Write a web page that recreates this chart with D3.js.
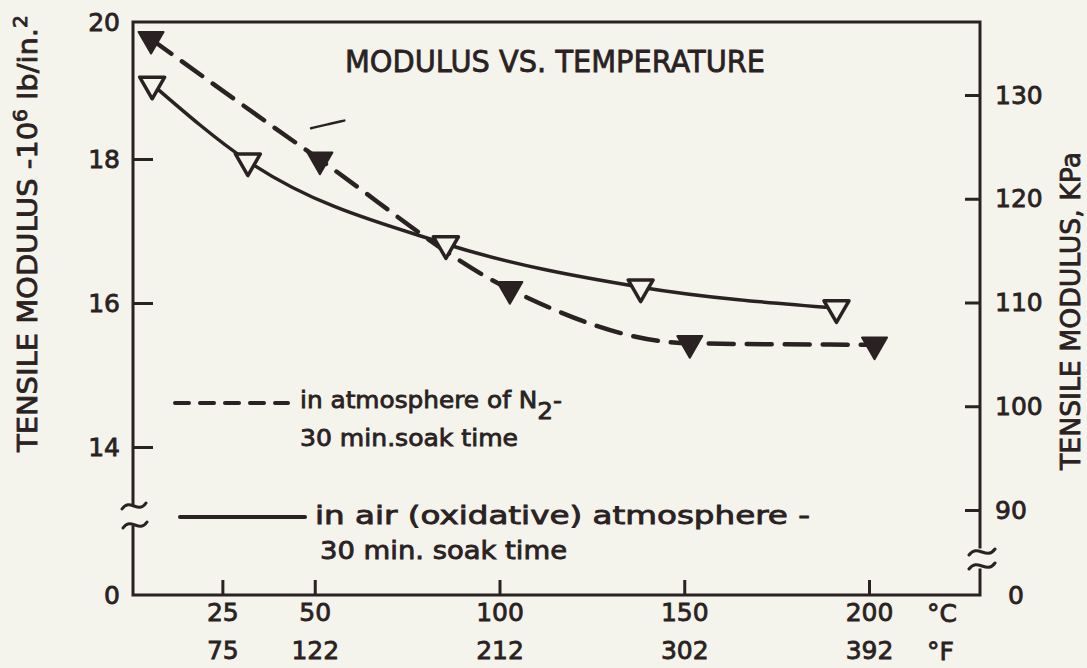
<!DOCTYPE html>
<html><head><meta charset="utf-8">
<script src="https://cdn.jsdelivr.net/npm/d3@7"></script>
<style>
html,body{margin:0;padding:0;background:#f4f3ec;}
svg{display:block;}
</style></head><body>
<svg id="chart" width="1087" height="668"></svg>
<script>
// Temperature tick labels (°C along the axis, °F printed beneath)
const tempC = [25, 50, 100, 150, 200];
const tempF = [75, 122, 212, 302, 392];
// Left axis: tensile modulus, 10^6 lb/in.^2
const psiTicks = [14, 16, 18];
const psiLabels = [0, 14, 16, 18, 20];
// Right axis: tensile modulus, KPa
const kpaTicks = [90, 100, 110, 120, 130];

// N2 atmosphere, 30 min soak time (filled triangles, dashed curve)
const n2Temp = [5.7, 51.4, 102.8, 151.5, 201.5];
const n2Modulus = [19.75, 17.99, 16.19, 15.44, 15.42];
// Air (oxidative) atmosphere, 30 min soak time (open triangles, solid curve)
const airTemp = [6.0, 31.9, 85.5, 138.2, 191.2];
const airModulus = [19.09, 17.97, 16.82, 16.22, 15.93];
// small loose pen stroke above the 50 °C point
const strayStroke = [[49, 18.45], [53, 18.5], [58, 18.56]];

const INK = "#2a2222", PAPER = "#f4f3ec", FONT = "'DejaVu Sans', sans-serif";
const frame = {left: 133, right: 980, top: 22, bottom: 595};

const svg = d3.select("#chart");
svg.append("rect").attr("width", 1087).attr("height", 668).attr("fill", PAPER);

// Scales; both modulus axes are broken just above zero
const x = d3.scaleLinear().domain([0, 200]).range([130, 869]);
const yL = d3.scaleLinear().domain([0, 13, 14, 18, 20]).range([595, 519, 447, 159, 22]);
const yR = d3.scaleLinear().domain([0, 85, 90, 130]).range([595, 562, 510, 95]);

function styleText(sel, size) {
  sel.attr("font-family", FONT).attr("font-size", size).attr("fill", INK)
     .attr("stroke", INK).attr("stroke-width", 0.8);
}
function tidyAxis(g, size) {
  g.select(".domain").remove();
  g.attr("font-family", null).attr("font-size", null);
  g.selectAll("line").attr("stroke", INK).attr("stroke-width", 3);
  g.selectAll("text").call(styleText, size);
}

// Frame with axis breaks
const framePath = [
  `M${frame.left},${frame.top}H${frame.right}`,
  `M${frame.left},${frame.top}V505`, `M${frame.left},527V${frame.bottom}`,
  `M${frame.left},${frame.bottom}H${frame.right}`,
  `M${frame.right},${frame.top}V547`, `M${frame.right},570V${frame.bottom}`
].join("");
svg.append("path").attr("d", framePath).attr("fill", "none")
  .attr("stroke", INK).attr("stroke-width", 3).attr("stroke-linecap", "square");

function tilde(cx, cy, w) {
  return `M${cx - w},${cy + 3}C${cx - w / 3},${cy - 9} ${cx + w / 3},${cy + 9} ${cx + w},${cy - 3}`;
}
svg.append("path")
  .attr("d", tilde(134, 506, 12) + tilde(135, 525, 12) + tilde(982, 552, 13) + tilde(982, 566, 13))
  .attr("fill", "none").attr("stroke", INK).attr("stroke-width", 3).attr("stroke-linecap", "round");

// Left axis: inward tick marks and outside labels
svg.append("g").attr("transform", `translate(${frame.left},0)`)
  .call(d3.axisRight(yL).tickValues(psiTicks).tickSize(20).tickFormat(""))
  .call(g => tidyAxis(g, 25));
svg.append("g").attr("transform", `translate(${frame.left},0)`)
  .call(d3.axisLeft(yL).tickValues(psiLabels).tickSize(0).tickPadding(13).tickFormat(d3.format("d")))
  .call(g => tidyAxis(g, 25));

// Right axis
svg.append("g").attr("transform", `translate(${frame.right},0)`)
  .call(d3.axisLeft(yR).tickValues(kpaTicks).tickSize(15).tickFormat(""))
  .call(g => tidyAxis(g, 25));
svg.append("g").attr("transform", `translate(${frame.right},0)`)
  .call(d3.axisRight(yR).tickValues(kpaTicks).tickSize(0).tickPadding(15).tickFormat(d3.format("d")))
  .call(g => tidyAxis(g, 25));
svg.append("text").attr("x", 1016).attr("y", yR(0)).attr("dy", "0.35em")
  .attr("text-anchor", "middle").text("0").call(styleText, 25);

// Bottom axis: tick marks pointing up, °C and °F label rows
svg.append("g").attr("transform", `translate(0,${frame.bottom})`)
  .call(d3.axisTop(x).tickValues(tempC).tickSize(15).tickFormat(""))
  .call(g => tidyAxis(g, 25));
svg.append("g").attr("transform", `translate(0,${frame.bottom})`)
  .call(d3.axisBottom(x).tickValues(tempC).tickSize(0).tickPadding(8).tickFormat(d3.format("d")))
  .call(g => tidyAxis(g, 25));
svg.append("g").attr("transform", `translate(0,${frame.bottom + 38})`)
  .call(d3.axisBottom(x).tickValues(tempC).tickSize(0).tickPadding(8)
    .tickFormat((d, i) => tempF[i]))
  .call(g => tidyAxis(g, 25));
svg.append("text").attr("x", 927).attr("y", 622).text("°C").call(styleText, 25);
svg.append("text").attr("x", 927).attr("y", 660).text("°F").call(styleText, 25);

// Axis titles
const leftTitle = svg.append("text")
  .attr("transform", "translate(37,452) rotate(-90)")
  .attr("text-anchor", "start")
  .attr("textLength", 437).attr("lengthAdjust", "spacingAndGlyphs")
  .call(styleText, 27);
leftTitle.append("tspan").text("TENSILE MODULUS -10");
leftTitle.append("tspan").attr("dy", -10).attr("font-size", 19).text("6");
leftTitle.append("tspan").attr("dy", 10).text(" lb/in.");
leftTitle.append("tspan").attr("dy", -10).attr("font-size", 19).text("2");

svg.append("text").attr("transform", "translate(1080,470) rotate(-90)")
  .attr("text-anchor", "start").attr("textLength", 318).attr("lengthAdjust", "spacingAndGlyphs")
  .text("TENSILE MODULUS, KPa").call(styleText, 26);

// Title
svg.append("text").attr("x", 555).attr("y", 72).attr("text-anchor", "middle")
  .attr("textLength", 420).attr("lengthAdjust", "spacingAndGlyphs")
  .text("MODULUS VS. TEMPERATURE").call(styleText, 31);

// Curves
const line = d3.line().x(d => x(d[0])).y(d => yL(d[1])).curve(d3.curveMonotoneX);
const n2Pts = n2Temp.map((t, i) => [t, n2Modulus[i]]);
const airPts = airTemp.map((t, i) => [t, airModulus[i]]);

svg.append("path").attr("d", line(n2Pts)).attr("fill", "none")
  .attr("stroke", INK).attr("stroke-width", 4.5).attr("stroke-dasharray", "25,13")
  .attr("stroke-linecap", "round");
svg.append("path").attr("d", line(airPts)).attr("fill", "none")
  .attr("stroke", INK).attr("stroke-width", 3.5);
svg.append("path").attr("d", d3.line().x(d => x(d[0])).y(d => yL(d[1])).curve(d3.curveBasis)(strayStroke))
  .attr("fill", "none").attr("stroke", INK).attr("stroke-width", 2.5).attr("stroke-linecap", "round");

// Markers: downward triangles
const tri = d3.symbol().type(d3.symbolTriangle).size(270);
svg.append("g").selectAll("path").data(airPts).join("path")
  .attr("d", tri).attr("transform", d => `translate(${x(d[0])},${yL(d[1])}) rotate(180)`)
  .attr("fill", PAPER).attr("stroke", INK).attr("stroke-width", 3.5).attr("stroke-linejoin", "round");
svg.append("g").selectAll("path").data(n2Pts).join("path")
  .attr("d", tri).attr("transform", d => `translate(${x(d[0])},${yL(d[1])}) rotate(180)`)
  .attr("fill", INK).attr("stroke", INK).attr("stroke-width", 2).attr("stroke-linejoin", "round");

// Key
svg.append("path").attr("d", "M175,403H288").attr("stroke", INK).attr("stroke-width", 4)
  .attr("stroke-dasharray", "14,11").attr("stroke-linecap", "round");
const k1 = svg.append("text").attr("x", 300).attr("y", 408)
  .attr("textLength", 262).attr("lengthAdjust", "spacingAndGlyphs").call(styleText, 23);
k1.append("tspan").text("in atmosphere of N");
k1.append("tspan").attr("dy", 11).text("2");
k1.append("tspan").attr("dy", -11).text("-");
svg.append("text").attr("x", 300).attr("y", 446)
  .attr("textLength", 218).attr("lengthAdjust", "spacingAndGlyphs")
  .text("30 min.soak time").call(styleText, 23);

svg.append("path").attr("d", "M180,517H305").attr("stroke", INK).attr("stroke-width", 4)
  .attr("stroke-linecap", "round");
svg.append("text").attr("x", 315).attr("y", 524)
  .attr("textLength", 495).attr("lengthAdjust", "spacingAndGlyphs")
  .text("in air (oxidative) atmosphere -").call(styleText, 24);
svg.append("text").attr("x", 320).attr("y", 559)
  .attr("textLength", 247).attr("lengthAdjust", "spacingAndGlyphs")
  .text("30 min. soak time").call(styleText, 24);
</script>
</body></html>
